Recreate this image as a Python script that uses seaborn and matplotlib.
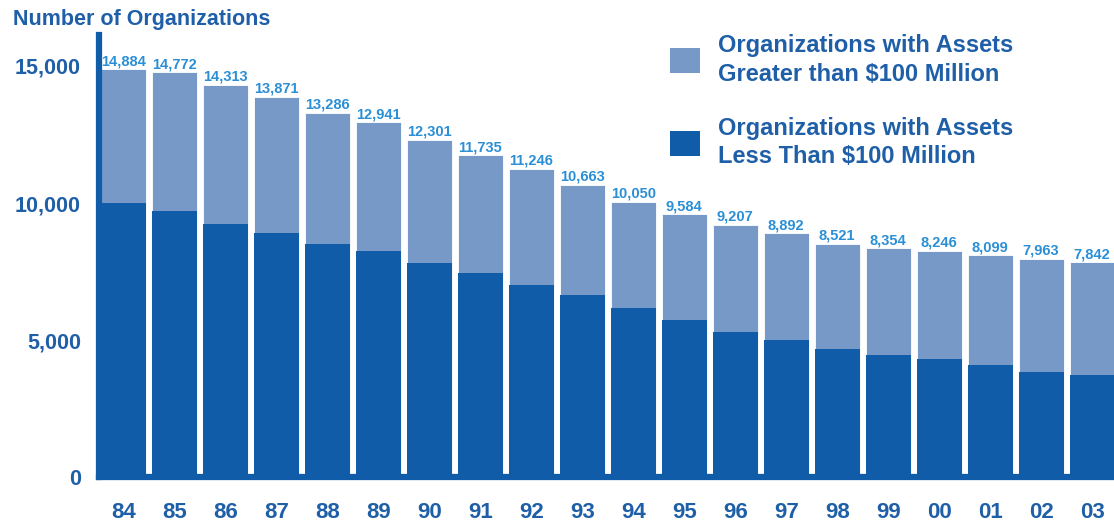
import matplotlib
matplotlib.use("Agg")
import matplotlib.pyplot as plt
from matplotlib.patches import Patch
import pandas as pd
import seaborn as sns

# Data
years = ['84', '85', '86', '87', '88', '89', '90', '91', '92', '93',
         '94', '95', '96', '97', '98', '99', '00', '01', '02', '03']
totals = [14884, 14772, 14313, 13871, 13286, 12941, 12301, 11735, 11246, 10663,
          10050, 9584, 9207, 8892, 8521, 8354, 8246, 8099, 7963, 7842]
small_orgs = [10000, 9710, 9235, 8915, 8495, 8250, 7800, 7435, 7010, 6645,
              6160, 5730, 5305, 5000, 4670, 4465, 4305, 4090, 3830, 3725]
legend_labels = ['Organizations with Assets\nGreater than $100 Million',
                 'Organizations with Assets\nLess Than $100 Million']

dark = '#105ca8'
light = '#7799c8'
label_blue = '#2b8fd6'
text_blue = '#1f5fa8'

df = pd.DataFrame({'year': years, 'total': totals, 'small': small_orgs})

sns.set_style('white')
plt.rcParams['font.family'] = ['Liberation Sans', 'DejaVu Sans']

fig = plt.figure(figsize=(11.14, 5.22), dpi=100)
ax = fig.add_axes([0.0889, 0.086, 0.9111, 0.847])

sns.barplot(data=df, x='year', y='total', color=light, saturation=1,
            width=0.88, ax=ax, edgecolor='white', linewidth=0.6)
sns.barplot(data=df, x='year', y='small', color=dark, saturation=1,
            width=0.88, ax=ax, linewidth=0)

# value labels on top of each stack
for i, v in enumerate(totals):
    ax.text(i, v + 40, f'{v:,}', ha='center', va='bottom', fontsize=10.5,
            fontweight='bold', color=label_blue)

ax.set_xlim(-0.48, 19.43)
ax.set_ylim(0, 16130)
ax.set_yticks([0, 5000, 10000, 15000])
ax.set_yticklabels(['0', '5,000', '10,000', '15,000'])
ax.set_xlabel('')
ax.set_ylabel('')

for side in ['top', 'right']:
    ax.spines[side].set_visible(False)
for side in ['left', 'bottom']:
    ax.spines[side].set_color(dark)
    ax.spines[side].set_linewidth(4.5)

ax.tick_params(axis='y', length=5, width=1, color=dark, direction='in',
               labelsize=15.5, labelcolor=text_blue, pad=13)
ax.tick_params(axis='x', length=0, labelsize=16, labelcolor=text_blue, pad=18)
for lbl in ax.get_xticklabels() + ax.get_yticklabels():
    lbl.set_fontweight('bold')

fig.text(0.012, 0.963, 'Number of Organizations', fontsize=15.5, fontweight='bold',
         color=text_blue, ha='left', va='center')

handles = [Patch(facecolor=light, edgecolor='none'),
           Patch(facecolor=dark, edgecolor='none')]
ax.legend(handles, legend_labels, loc='upper left', bbox_to_anchor=(0.542, 1.05),
          frameon=False, handlelength=1.25, handleheight=1.25,
          handletextpad=0.75, labelspacing=1.33, labelcolor=text_blue,
          prop={'weight': 'bold', 'size': 17})
for t in ax.get_legend().get_texts():
    t.set_linespacing(1.3)

fig.savefig('out.png', dpi=100)
